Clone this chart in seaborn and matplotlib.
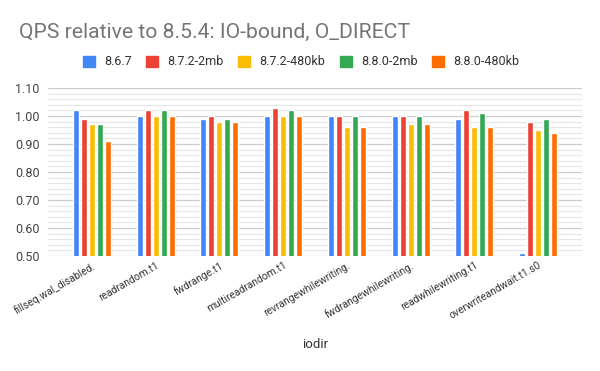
import numpy as np
import pandas as pd
import seaborn as sns
import matplotlib
matplotlib.use("Agg")
import matplotlib.pyplot as plt
from matplotlib.ticker import MultipleLocator, FormatStrFormatter

categories = ["fillseq.wal_disabled.", "readrandom.t1", "fwdrange.t1", "multireadrandom.t1",
              "revrangewhilewriting.", "fwdrangewhilewriting.", "readwhilewriting.t1",
              "overwriteandwait.t1.s0"]
series = ["8.6.7", "8.7.2-2mb", "8.7.2-480kb", "8.8.0-2mb", "8.8.0-480kb"]
v_867 = [1.02, 1.00, 0.99, 1.00, 1.00, 1.00, 0.99, 0.51]
v_872_2mb = [0.99, 1.02, 1.00, 1.03, 1.00, 1.00, 1.02, 0.98]
v_872_480kb = [0.97, 1.00, 0.98, 1.00, 0.96, 0.97, 0.96, 0.95]
v_880_2mb = [0.97, 1.02, 0.99, 1.02, 1.00, 1.00, 1.01, 0.99]
v_880_480kb = [0.91, 1.00, 0.98, 1.00, 0.96, 0.97, 0.96, 0.94]
colors = ["#4285F4", "#EA4335", "#FBBC04", "#34A853", "#FF6D01"]

values = [v_867, v_872_2mb, v_872_480kb, v_880_2mb, v_880_480kb]
rows = []
for s, vals in zip(series, values):
    for c, v in zip(categories, vals):
        rows.append({"iodir": c, "series": s, "value": v})
df = pd.DataFrame(rows)

sns.set_theme(style="white")
plt.rcParams['font.family'] = ['Roboto', 'DejaVu Sans']

fig = plt.figure(figsize=(6, 3.71), dpi=100)
ax = fig.add_axes([0.08, 0.31, 0.89, 0.4528])

sns.barplot(data=df, x="iodir", y="value", hue="series", order=categories,
            hue_order=series, palette=colors, width=0.63, gap=0.25,
            saturation=1, ax=ax, legend=True)

ax.set_ylim(0.5, 1.1)
ax.set_xlim(-0.69, 7.69)
ax.yaxis.set_major_locator(MultipleLocator(0.1))
ax.yaxis.set_minor_locator(MultipleLocator(0.02))
ax.yaxis.set_major_formatter(FormatStrFormatter('%.2f'))
ax.grid(which='major', axis='y', color='#cccccc', linewidth=0.9)
ax.grid(which='minor', axis='y', color='#e6e6e6', linewidth=0.8)
ax.set_axisbelow(True)
for sp in ax.spines.values():
    sp.set_visible(False)
ax.tick_params(axis='y', which='both', length=0, labelsize=9, labelcolor='#444444', pad=6)
ax.tick_params(axis='x', length=0, labelsize=7.4, labelcolor='#333333', pad=3)
plt.setp(ax.get_xticklabels(), rotation=30, ha='right', rotation_mode='anchor')

ax.set_ylabel("")
ax.set_xlabel("iodir", fontsize=9.5, color='#333333', labelpad=12)

ax.legend_.remove()
handles = [plt.Rectangle((0, 0), 1, 1, color=c) for c in colors]
fig.legend(handles, series, loc='center', bbox_to_anchor=(0.502, 0.833), ncol=5,
           frameon=False, fontsize=9, handlelength=0.95, handleheight=0.95,
           handletextpad=0.75, columnspacing=1.15, labelcolor='#333333',
           borderaxespad=0, borderpad=0)

fig.text(0.032, 0.8984, "QPS relative to 8.5.4: IO-bound, O_DIRECT", fontsize=15.2,
         color='#757575', va='baseline', ha='left')

fig.savefig("out.png", dpi=100)
